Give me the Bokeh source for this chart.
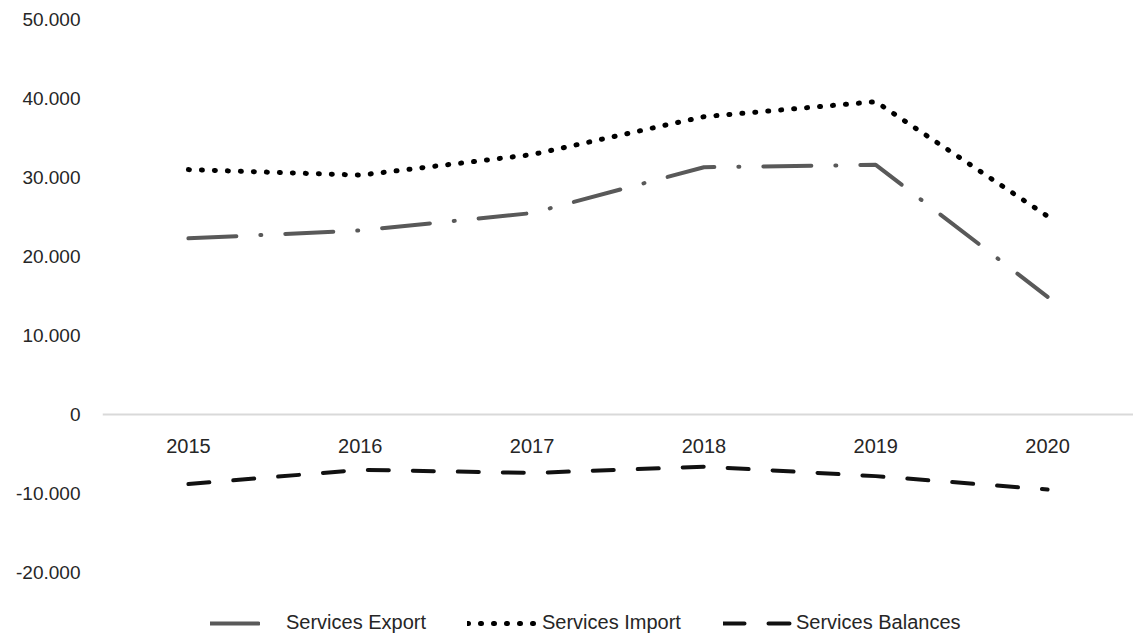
from bokeh.plotting import figure
from bokeh.models import (ColumnDataSource, FactorRange, Range1d, FixedTicker,
                          Legend, LegendItem, Span)
from bokeh.core.properties import value
from bokeh.embed import file_html
from bokeh.resources import INLINE

years = ["2015", "2016", "2017", "2018", "2019", "2020"]
services_export = [22300, 23300, 25500, 31300, 31600, 14900]
services_import = [31000, 30300, 32900, 37700, 39600, 25100]
services_balances = [-8800, -7000, -7400, -6600, -7800, -9500]

y_ticks = [-20000, -10000, 0, 10000, 20000, 30000, 40000, 50000]
y_tick_labels = ["-20.000", "-10.000", "0", "10.000", "20.000", "30.000", "40.000", "50.000"]

FONT = "Liberation Sans"
TXT = "#262626"

src = ColumnDataSource(dict(x=years, exp=services_export, imp=services_import,
                            bal=services_balances, zero=[0] * len(years)))

p = figure(frame_width=1031, frame_height=617, output_backend="svg", toolbar_location=None,
           x_range=FactorRange(*years), y_range=Range1d(-28100, 50000),
           x_axis_location=None, min_border_left=102, min_border_right=0,
           min_border_top=19, min_border_bottom=0)
p.outline_line_color = None
p.grid.grid_line_color = None

# y axis
ya = p.yaxis[0]
ya.ticker = FixedTicker(ticks=y_ticks)
ya.major_label_overrides = {t: l for t, l in zip(y_ticks, y_tick_labels)}
ya.axis_line_color = None
ya.major_tick_line_color = None
ya.minor_tick_line_color = None
ya.major_tick_out = 0
ya.minor_tick_out = 0
ya.major_label_standoff = 22
ya.major_label_text_font = FONT
ya.major_label_text_font_size = "19px"
ya.major_label_text_color = TXT

# horizontal category axis at zero
p.add_layout(Span(location=0, dimension="width", line_color="#d9d9d9", line_width=2))
p.text(x="x", y="zero", text="x", source=src, y_offset=31,
       text_align="center", text_baseline="middle",
       text_font=value(FONT), text_font_size="20px", text_color=TXT)

r_exp = p.line("x", "exp", source=src, line_color="#595959", line_width=4,
               line_dash="48 24 1 24", line_cap="round")
r_imp = p.line("x", "imp", source=src, line_color="#000000", line_width=5,
               line_dash="1 12", line_cap="round")
r_bal = p.line("x", "bal", source=src, line_color="#111111", line_width=4,
               line_dash="21 24", line_cap="round")

def make_legend(label, rend, loc, gw, standoff):
    return Legend(items=[LegendItem(label=label, renderers=[rend])],
                  location=loc, orientation="horizontal",
                  label_text_font=FONT, label_text_font_size="20px",
                  label_text_color=TXT, glyph_width=gw, glyph_height=20,
                  label_height=20, label_standoff=standoff,
                  border_line_color=None, background_fill_alpha=0,
                  padding=0, margin=0, spacing=0)

p.add_layout(make_legend("Services Export", r_exp, (108, 2), 50, 26), "center")
p.add_layout(make_legend("Services Import", r_imp, (365, 2), 70, 5), "center")
p.add_layout(make_legend("Services Balances", r_bal, (621, 2), 70, 3), "center")

open("out.html", "w").write(file_html(p, INLINE))
